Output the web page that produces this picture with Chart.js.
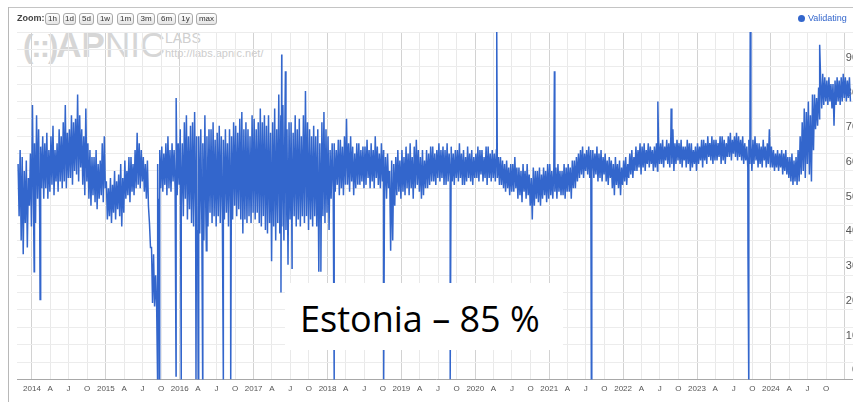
<!DOCTYPE html>
<html><head><meta charset="utf-8">
<script src="https://cdn.jsdelivr.net/npm/chart.js@4.4.1/dist/chart.umd.min.js"></script>
<style>
html,body{margin:0;padding:0;background:#fff;width:853px;height:402px;overflow:hidden;}
#wrap{position:relative;width:853px;height:402px;overflow:hidden;font-family:"Liberation Sans",Arial,sans-serif;}
#c{position:absolute;left:0;top:0;z-index:2;}
.abs{position:absolute;white-space:nowrap;}
.wm{z-index:1;}
.frameTop{left:8px;top:7px;width:900px;height:1px;background:#c4c4c4;z-index:3;}
.frameLeft{left:8px;top:7px;width:1px;height:400px;background:#b8b8b8;z-index:3;}
.btn{top:13px;height:10px;border:1px solid #a9a9a9;border-radius:3px;background:linear-gradient(#ffffff,#e4e4e4);font-size:8px;line-height:10px;text-align:center;color:#333;z-index:3;box-sizing:content-box;}
</style></head>
<body><div id="wrap">
<div class="abs frameTop"></div>
<div class="abs frameLeft"></div>
<div class="abs wm" style="left:23px;top:27px;font-size:35px;line-height:35px;color:#d6d6d6;font-weight:bold;"><span style="font-size:31px;letter-spacing:-2px;">(::)</span><span>AP</span><span style="font-weight:normal;">NIC</span></div>
<div class="abs wm" style="left:165px;top:31px;font-size:14px;line-height:14px;color:#cfcfcf;">LABS</div>
<div class="abs wm" style="left:165px;top:48px;font-size:11px;line-height:11px;color:#cdcdcd;">http://labs.apnic.net/</div>
<div class="abs" style="left:17px;top:14px;font-size:9px;line-height:9px;font-weight:bold;color:#444;z-index:3;">Zoom:</div>
<div id="btns"></div>
<div class="abs" style="left:798px;top:15px;width:7px;height:7px;border-radius:50%;background:#3366cc;z-index:3;"></div>
<div class="abs" style="left:808px;top:14px;font-size:9px;line-height:9px;color:#3366cc;z-index:3;">Validating</div>
<canvas id="c" width="861" height="402" style="width:861px;height:402px;"></canvas>
<div class="abs" style="left:285px;top:283px;width:278px;height:67px;background:#fff;z-index:4;"></div>
<div class="abs" style="left:300px;top:301px;font-family:'Open Sans',sans-serif;font-size:36px;line-height:36px;color:#000;z-index:5;">Estonia – 85 %</div>
</div>
<script>
// ---- values: for every ~10-day slot, the top and bottom of the daily band ----
// 2013 holds only the last 7 slots of the year
const hi2013 = [62,66,64,60,63,58,65];
const lo2013 = [47,40,36,45,38,50,44];
const hi2014 = [79,68,76, 72,67,70, 68,71,66, 70,73,66, 68,72,70, 74,79,71, 72,76,74, 75,82,76, 72,70,78, 68,66,64, 64,66,62, 63,68,70];
const lo2014 = [50,45,52, 48,55,52, 55,52,54, 56,53,57, 54,57,55, 57,55,58, 58,56,60, 59,57,61, 56,53,57, 52,50,53, 51,49,52, 53,51,55];
const hi2015 = [57,55,58, 56,60,57, 59,62,58, 63,60,64, 64,62,66, 71,68,66, 64,62,63, 45,38,36, 30,62,66, 67,65,68, 70,66,68, 66,81,68];
const lo2015 = [46,47,45, 48,46,49, 47,44,48, 52,53,51, 54,53,55, 56,55,57, 54,52,50, 38,22,21, 21,52,55, 54,56,53, 55,54,57, 55,53,56];
const hi2016 = [72,68,74, 76,70,73, 74,77,70, 70,72,68, 76,70,72, 72,74,69, 71,73,70, 69,72,68, 72,70,74, 73,71,75, 77,72,74, 72,70,76];
const lo2016 = [50,47,52, 46,49,45, 44,47,43, 42,46,40, 46,44,48, 45,47,44, 47,45,48, 46,48,44, 48,46,50, 47,49,46, 42,46,45, 47,45,48];
const hi2017 = [75,72,74, 78,74,76, 73,76,71, 74,78,72, 82,76,79, 75,72,74, 74,71,76, 72,75,70, 76,83,74, 72,70,73, 70,72,68, 74,77,72];
const lo2017 = [46,48,45, 44,47,43, 42,45,34, 44,40,45, 42,44,40, 43,33,46, 45,47,44, 46,44,47, 45,47,43, 46,44,47, 44,31,45, 47,45,48];
const hi2018 = [70,66,68, 68,66,69, 69,67,70, 75,68,70, 67,65,68, 68,66,67, 67,69,66, 68,66,70, 67,65,68, 66,64,65, 60,63,62, 64,66,63];
const lo2018 = [43,52,55, 54,56,53, 55,53,56, 56,54,57, 53,55,56, 56,57,55, 56,58,55, 57,55,58, 56,55,57, 54,52,55, 37,40,50, 53,54,52];
const hi2019 = [66,64,67, 65,68,64, 67,69,66, 64,66,63, 66,65,67, 67,65,66, 68,66,67, 66,68,65, 67,65,66, 66,68,65, 66,64,67, 65,66,64];
const lo2019 = [54,53,55, 53,55,52, 55,56,54, 52,53,55, 55,56,57, 57,56,58, 57,58,56, 56,57,58, 57,56,58, 57,58,56, 56,57,58, 57,56,58];
const hi2020 = [65,67,66, 66,64,67, 67,65,66, 65,66,64, 64,63,62, 63,61,62, 62,64,61, 61,60,62, 60,62,59, 58,61,60, 60,61,59, 61,60,62];
const lo2020 = [58,57,59, 57,58,56, 58,57,58, 57,58,56, 56,55,54, 55,53,54, 54,55,52, 53,51,54, 52,53,50, 46,50,52, 51,50,52, 53,51,52];
const hi2021 = [62,60,61, 61,62,60, 60,62,61, 62,61,63, 63,64,65, 66,67,65, 66,67,66, 66,65,67, 65,66,64, 65,63,64, 63,62,64, 62,63,61];
const lo2021 = [53,52,54, 52,54,53, 53,52,54, 54,52,55, 55,57,58, 59,58,60, 59,58,60, 58,59,57, 58,57,59, 57,56,58, 55,53,56, 55,53,56];
const hi2022 = [63,64,62, 65,66,64, 67,66,68, 67,68,66, 68,67,66, 67,68,69, 68,69,67, 69,68,70, 72,68,69, 68,69,67, 67,69,68, 68,66,67];
const lo2022 = [57,56,58, 59,58,60, 60,61,59, 61,60,62, 61,62,60, 61,60,62, 62,61,63, 62,61,62, 60,62,63, 62,61,63, 61,62,60, 61,62,60];
const hi2023 = [68,67,69, 69,68,70, 68,70,69, 69,68,70, 70,69,68, 70,71,69, 70,71,70, 69,70,68, 67,69,68, 69,70,68, 68,67,69, 67,68,72];
const lo2023 = [62,63,61, 63,62,64, 63,62,63, 63,64,62, 63,62,64, 64,63,65, 64,63,64, 63,62,63, 61,62,60, 62,63,61, 62,61,63, 61,62,61];
const hi2024 = [67,66,65, 66,65,66, 65,66,64, 64,65,63, 64,66,70, 74,78,77, 80,76,82, 82,81,84, 86,88,87, 86,87,85, 85,86,87, 86,87,88];
const lo2024 = [61,60,61, 60,61,59, 60,59,58, 57,56,57, 56,57,59, 60,58,62, 59,57,66, 72,73,75, 78,79,80, 79,80,78, 73,79,80, 79,80,81];
const hi2025 = [87,86,87];
const lo2025 = [80,81,80];
// isolated outliers (decimal year, value)
const spikeDates  = [2014.03, 2014.11, 2015.700, 2015.712, 2015.724, 2015.95, 2016.02, 2016.22, 2016.235, 2016.25, 2016.31, 2016.36, 2016.59, 2016.69, 2017.37, 2017.38, 2017.43, 2017.52, 2017.91, 2018.09, 2018.76, 2019.66, 2020.29, 2021.07, 2021.57, 2022.47, 2022.65, 2023.69, 2023.70, 2023.72, 2024.66];
const spikeValues = [31, 23, 0, 25, 0, 1, 0, 0, 40, 0, 0, 37, 0, 0, 25, 93.5, 88.7, 32, 31, 0, 0, 0, 100, 88.7, 0, 80, 78, 36, 0, 100, 96.3];
const yLabels = [0, 10, 20, 30, 40, 50, 60, 70, 80, 90];
const quarterLabels = ['', 'A', 'J', 'O'];
const firstYear = 2014, lastYear = 2024;

const yearArrays = [[2013,29,hi2013,lo2013],[2014,0,hi2014,lo2014],[2015,0,hi2015,lo2015],[2016,0,hi2016,lo2016],[2017,0,hi2017,lo2017],[2018,0,hi2018,lo2018],[2019,0,hi2019,lo2019],[2020,0,hi2020,lo2020],[2021,0,hi2021,lo2021],[2022,0,hi2022,lo2022],[2023,0,hi2023,lo2023],[2024,0,hi2024,lo2024],[2025,0,hi2025,lo2025]];
const pts = [];
yearArrays.forEach(([Y, off, hiA, loA]) => hiA.forEach((h, i) => {
  pts.push({x: Y + (off + i + 0.25) / 36, y: h});
  pts.push({x: Y + (off + i + 0.75) / 36, y: loA[i]});
}));
spikeDates.forEach((d, i) => pts.push({x: d, y: spikeValues[i]}));
pts.sort((a, b) => a.x - b.x);

const qFrac = [0, 90/365, 181/365, 273/365];
const tickVals = [];
for (let y = firstYear; y <= lastYear; y++) qFrac.forEach(f => tickVals.push(y + f));
tickVals.push(lastYear + 1);

const btnDefs = [['1h',45,15],['1d',63,13],['5d',79,15],['1w',97,16],['1m',117,17],['3m',137,18],['6m',157,19],['1y',178,15],['max',196,21]];
const bc = document.getElementById('btns');
btnDefs.forEach(([t,l,w]) => { const d = document.createElement('div'); d.className='abs btn'; d.style.left=l+'px'; d.style.width=(w-2)+'px'; d.textContent=t; bc.appendChild(d); });

const PX_LEFT = 17, PX_RIGHT = 858, X0 = 32, PX_PER_YEAR = 74.16;
const xMin = 2014 + (PX_LEFT - X0) / PX_PER_YEAR;
const xMax = 2014 + (PX_RIGHT - X0) / PX_PER_YEAR;

new Chart(document.getElementById('c'), {
  type: 'line',
  data: { datasets: [{ label: 'Validating', data: pts, borderColor: '#3366cc', borderWidth: 1.5, pointRadius: 0, tension: 0, fill: false }] },
  options: {
    responsive: false, animation: false,
    layout: { padding: { left: PX_LEFT, top: 32, bottom: 3, right: 0 } },
    plugins: { legend: { display: false }, tooltip: { enabled: false } },
    scales: {
      x: {
        type: 'linear', min: xMin, max: xMax,
        afterBuildTicks: s => { s.ticks = tickVals.map(v => ({ value: v })); },
        ticks: {
          autoSkip: false, maxRotation: 0, padding: 5, color: '#555',
          font: { family: 'Liberation Sans', size: 8 },
          callback: (v) => {
            const y = Math.floor(v + 1e-6); const q = qFrac.findIndex(f => Math.abs(v - y - f) < 1e-3);
            if (y > lastYear) return '';
            return q === 0 ? String(y) : quarterLabels[q];
          }
        },
        grid: { drawTicks: false, color: c => (c.tick && Math.abs(c.tick.value - Math.round(c.tick.value)) < 1e-6) ? '#d2d2d2' : '#e9e9e9', lineWidth: 1 },
        border: { display: true, color: '#a8a8a8', width: 1 }
      },
      y: {
        position: 'right', min: 0, max: 100,
        afterBuildTicks: s => { const t = []; for (let v = 0; v <= 100; v += 5) t.push({ value: v }); s.ticks = t; },
        ticks: { mirror: true, padding: 3, labelOffset: -9, color: '#555', font: { family: 'Liberation Sans', size: 11 },
          callback: v => yLabels.includes(v) ? String(v) : '' },
        grid: { drawTicks: false, color: '#ececec', lineWidth: 1 },
        border: { display: false }
      }
    }
  }
});
</script>
</body></html>
